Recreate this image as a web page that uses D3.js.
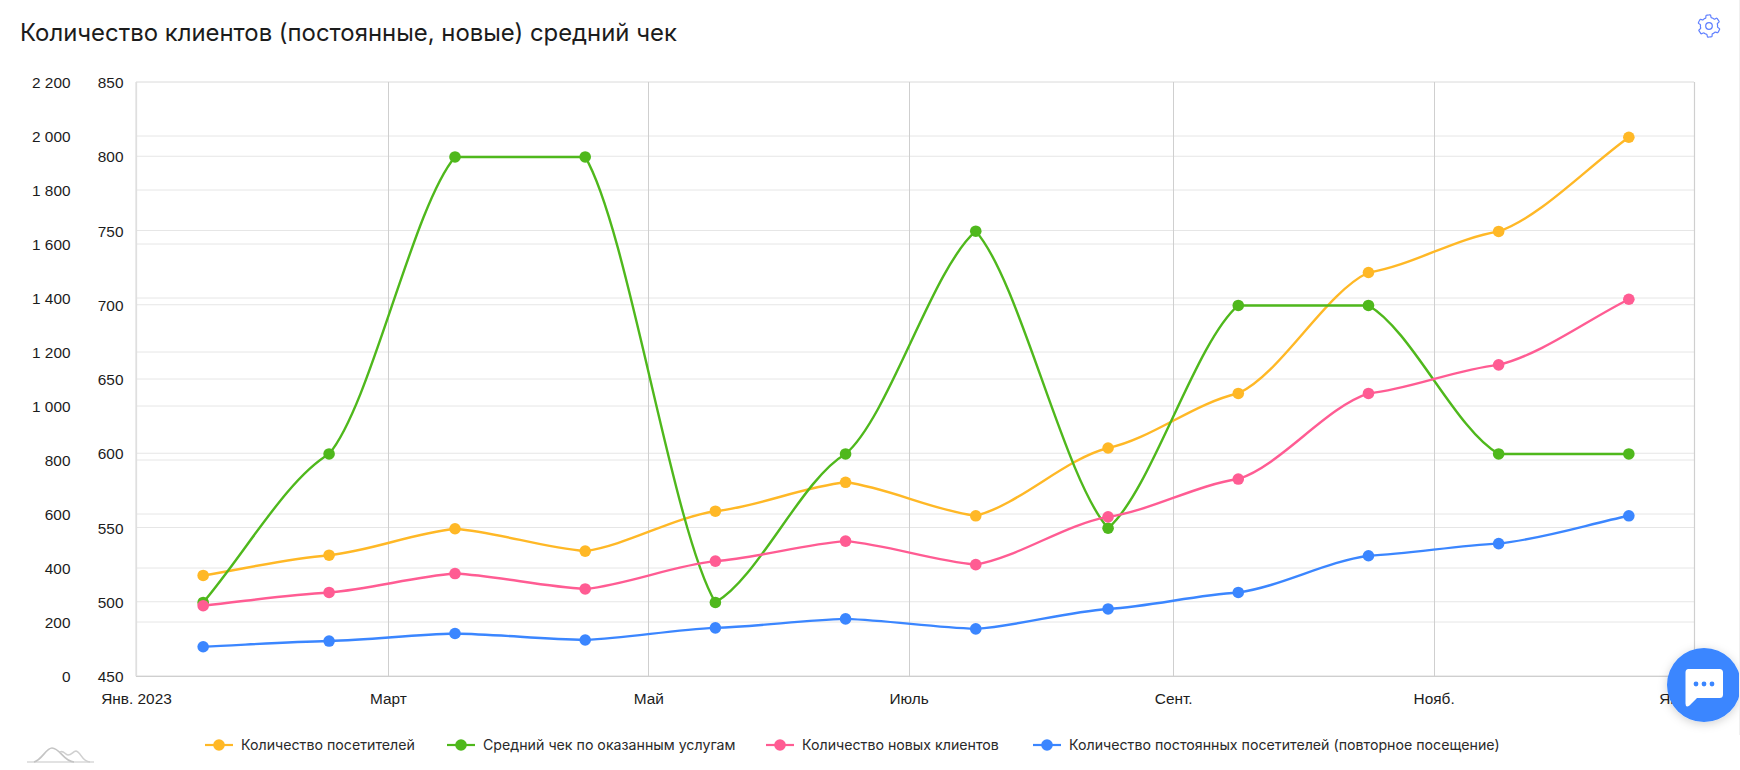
<!DOCTYPE html>
<html>
<head>
<meta charset="utf-8">
<script src="https://cdn.jsdelivr.net/npm/d3@7"></script>
<style>
  html, body { margin: 0; padding: 0; background: #fff; }
  svg { display: block; font-family: Inter, "Noto Sans", sans-serif; }
  .tick text { fill: #1c1c1c; font-size: 15.4px; }
  .legend text { fill: #2a2a2a; font-size: 14.2px; }
</style>
</head>
<body>
<div id="chart"></div>
<script>
// month centres of 2023, one point per month
var pointDates = ['2023-01-16T12', '2023-02-15T00', '2023-03-16T12', '2023-04-16T00', '2023-05-16T12', '2023-06-16T00',
                  '2023-07-16T12', '2023-08-16T12', '2023-09-16T00', '2023-10-16T12', '2023-11-16T00', '2023-12-16T12'];
var visitors  = [375, 450, 548, 465, 613, 720, 596, 847, 1049, 1497, 1649, 1998];
var avgCheck  = [500, 600, 800, 800, 500, 600, 750, 550, 700, 700, 600, 600];
var newClients = [263, 312, 382, 325, 428, 502, 415, 592, 732, 1049, 1155, 1398];
var returning = [111, 132, 160, 136, 181, 214, 177, 251, 312, 448, 493, 596];

var tickDates = ['2023-01-01T00', '2023-03-01T00', '2023-05-01T00', '2023-07-01T00', '2023-09-01T00', '2023-11-01T00', '2024-01-01T00'];
var tickLabels = ['Янв. 2023', 'Март', 'Май', 'Июль', 'Сент.', 'Нояб.', 'Янв. 2024'];
var leftTicks = [0, 200, 400, 600, 800, 1000, 1200, 1400, 1600, 1800, 2000, 2200];
var rightTicks = [450, 500, 550, 600, 650, 700, 750, 800, 850];

var seriesNames = ['Количество посетителей', 'Средний чек по оказанным услугам', 'Количество новых клиентов',
                   'Количество постоянных посетителей (повторное посещение)'];
var seriesColors = ['#ffb826', '#4fb81c', '#ff5c93', '#3b86ff'];
var legendX = [205, 447, 766, 1033];

var width = 1740, height = 770,
    plotLeft = 136, plotRight = 1694, plotTop = 82, plotBottom = 676;

var svg = d3.select('#chart').append('svg')
  .attr('width', width)
  .attr('height', height);

var parseDay = function (s) { return new Date(s + ':00:00Z'); };

var x = d3.scaleUtc().domain([parseDay(tickDates[0]), parseDay(tickDates[6])]).range([plotLeft, plotRight]);
var yCount = d3.scaleLinear().domain([0, 2200]).range([plotBottom, plotTop]);
var yCheck = d3.scaleLinear().domain([450, 850]).range([plotBottom, plotTop]);

var thousands = function (d) {
  return d3.format(',')(d).replace(/,/g, '\u00a0');
};

// each segment eases into its knots at half its own chord slope, outer ends keep the chord
function softKnots(context) {
  var pts = [];
  return {
    areaStart: function () {},
    areaEnd: function () {},
    lineStart: function () { pts = []; },
    point: function (px, py) { pts.push([+px, +py]); },
    lineEnd: function () {
      context.moveTo(pts[0][0], pts[0][1]);
      for (var i = 1; i < pts.length; i++) {
        var a = pts[i - 1], b = pts[i],
            dx = b[0] - a[0], dy = b[1] - a[1],
            k0 = i === 1 ? 1 : 0.5,
            k1 = i === pts.length - 1 ? 1 : 0.5;
        context.bezierCurveTo(a[0] + dx / 3, a[1] + k0 * dy / 3, b[0] - dx / 3, b[1] - k1 * dy / 3, b[0], b[1]);
      }
    }
  };
}

// title
svg.append('text')
  .attr('x', 20)
  .attr('y', 41)
  .attr('fill', '#1c1c1c')
  .style('font-size', '23.9px')
  .text('Количество клиентов (постоянные, новые) средний чек');

// horizontal grid from both value axes
[[yCount, leftTicks], [yCheck, rightTicks]].forEach(function (a) {
  svg.append('g').selectAll('line')
    .data(a[1]).enter()
    .append('line')
    .attr('x1', plotLeft)
    .attr('x2', plotRight)
    .attr('y1', function (d) { return a[0](d); })
    .attr('y2', function (d) { return a[0](d); })
    .attr('stroke', '#e6e6e6')
    .attr('stroke-width', 1);
});

// month axis with vertical grid
var xAxis = svg.append('g')
  .attr('transform', 'translate(0,' + plotBottom + ')')
  .call(d3.axisBottom(x)
    .tickValues(tickDates.map(parseDay))
    .tickSize(-(plotBottom - plotTop))
    .tickPadding(17)
    .tickFormat(function (d, i) { return tickLabels[i]; }));
xAxis.select('.domain').attr('stroke', '#cfcfcf').attr('stroke-width', 1.2);
xAxis.selectAll('.tick line').attr('stroke', '#cfcfcf').attr('shape-rendering', 'crispEdges');

// plot left edge is lighter and a bit wider
svg.append('line')
  .attr('x1', plotLeft).attr('x2', plotLeft)
  .attr('y1', plotTop).attr('y2', plotBottom)
  .attr('stroke', '#e4e4e4')
  .attr('stroke-width', 1.5);

// value axes, labels only
var axisCount = svg.append('g')
  .attr('transform', 'translate(70.5,0.7)')
  .call(d3.axisLeft(yCount).tickValues(leftTicks).tickSize(0).tickPadding(0).tickFormat(thousands));
var axisCheck = svg.append('g')
  .attr('transform', 'translate(123.5,0.7)')
  .call(d3.axisLeft(yCheck).tickValues(rightTicks).tickSize(0).tickPadding(0).tickFormat(d3.format('d')));
axisCount.select('.domain').remove();
axisCheck.select('.domain').remove();

// series
var line = function (yScale) {
  return d3.line()
    .x(function (d, i) { return x(parseDay(pointDates[i])); })
    .y(function (d) { return yScale(d); })
    .curve(softKnots);
};

[[visitors, yCount], [avgCheck, yCheck], [newClients, yCount], [returning, yCount]].forEach(function (s, k) {
  var g = svg.append('g').attr('transform', 'translate(1,0.7)');
  g.append('path')
    .attr('d', line(s[1])(s[0]))
    .attr('fill', 'none')
    .attr('stroke', seriesColors[k])
    .attr('stroke-width', 2.4);
  g.selectAll('circle')
    .data(s[0]).enter()
    .append('circle')
    .attr('cx', function (d, i) { return x(parseDay(pointDates[i])); })
    .attr('cy', function (d) { return s[1](d); })
    .attr('r', 5.8)
    .attr('fill', seriesColors[k]);
});

// legend
var legend = svg.selectAll('g.legend')
  .data(seriesNames).enter()
  .append('g')
  .attr('class', 'legend')
  .attr('transform', function (d, i) { return 'translate(' + legendX[i] + ',745)'; });
legend.append('line')
  .attr('x2', 28)
  .attr('stroke', function (d, i) { return seriesColors[i]; })
  .attr('stroke-width', 2.2);
legend.append('circle')
  .attr('cx', 14)
  .attr('r', 5.8)
  .attr('fill', function (d, i) { return seriesColors[i]; });
legend.append('text')
  .attr('x', 36)
  .attr('dy', '.35em')
  .text(function (d) { return d; });

// little logo, bottom left
var logo = svg.append('g').attr('fill', 'none').attr('stroke-width', 1.6);
logo.append('path').attr('d', 'M27 762 H94').attr('stroke', '#d8d8d8');
logo.append('path').attr('d', 'M34 762 C42 760 46 748 52 748 C60 748 64 762 74 762').attr('stroke', '#c4c4c4');
logo.append('path').attr('d', 'M60 752 C64 750 65 755 68 755 C72 755 73 751 76 751 C81 752 82 762 90 762').attr('stroke', '#d0d0d0');

// settings gear
var gear = svg.append('g').attr('transform', 'translate(1709,26)').attr('fill', 'none').attr('stroke', '#5f7fff').attr('stroke-width', 1.2);
var gearPts = d3.range(48).map(function (i) {
  var a = i / 48 * 2 * Math.PI, r = (i % 8) < 4 ? 11 : 8.6;
  return [r * Math.cos(a + 0.26), r * Math.sin(a + 0.26)];
});
gear.append('path').attr('d', d3.line().curve(d3.curveCatmullRomClosed)(gearPts));
gear.append('circle').attr('r', 3.3);

// chat button
var defs = svg.append('defs');
var shadow = defs.append('filter').attr('id', 'chatShadow').attr('x', '-30%').attr('y', '-30%').attr('width', '160%').attr('height', '160%');
shadow.append('feDropShadow').attr('dx', 0).attr('dy', 2).attr('stdDeviation', 5).attr('flood-color', '#000').attr('flood-opacity', 0.18);
var chat = svg.append('g').attr('transform', 'translate(1704,685)');
chat.append('circle').attr('r', 37).attr('fill', '#3b86ff').attr('filter', 'url(#chatShadow)');
chat.append('path')
  .attr('d', 'M-15.5 -16 H15.5 Q19 -16 19 -12.5 V9.5 Q19 13 15.5 13 H-7 L-14.5 20.5 Q-18.5 23 -18.5 18.5 V-12.5 Q-18.5 -16 -15.5 -16 Z')
  .attr('fill', '#fff');
chat.selectAll('circle.dot')
  .data([-8, 0, 8]).enter()
  .append('circle')
  .attr('class', 'dot')
  .attr('cx', function (d) { return d; })
  .attr('cy', -1)
  .attr('r', 2.4)
  .attr('fill', '#3b86ff');

// faint page edge on the right
svg.append('line')
  .attr('x1', 1739.5).attr('x2', 1739.5)
  .attr('y1', 0).attr('y2', 735)
  .attr('stroke', '#f0f0f0');
</script>
</body>
</html>
